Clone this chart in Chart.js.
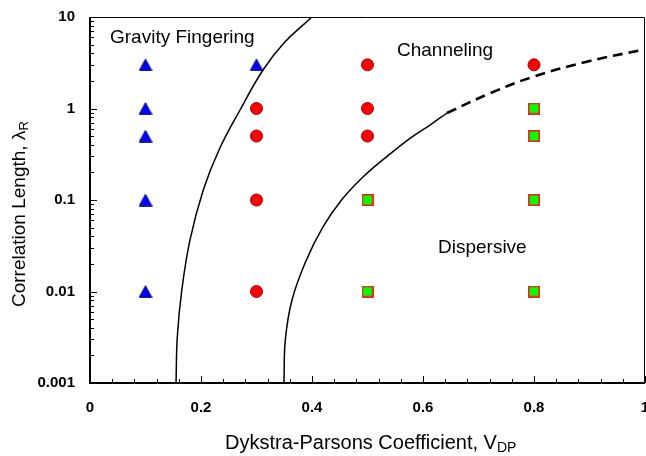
<!DOCTYPE html>
<html>
<head>
<meta charset="utf-8">
<script src="https://cdn.jsdelivr.net/npm/chart.js@4.4.1/dist/chart.umd.min.js"></script>
<style>
  html, body { margin: 0; padding: 0; background: #fff; }
  #wrap { width: 646px; height: 456px; }
</style>
</head>
<body>
<div id="wrap"><canvas id="chart"></canvas></div>
<script>
// measured points (V_DP, lambda_R)
const triangleX = [0.1, 0.1, 0.1, 0.1, 0.1, 0.3];
const triangleY = [3, 1, 0.5, 0.1, 0.01, 3];
const circleX = [0.3, 0.3, 0.3, 0.3, 0.5, 0.5, 0.5, 0.8];
const circleY = [1, 0.5, 0.1, 0.01, 3, 1, 0.5, 3];
const squareX = [0.5, 0.5, 0.8, 0.8, 0.8, 0.8];
const squareY = [0.1, 0.01, 1, 0.5, 0.1, 0.01];

// boundary curves
const gravityX = [0.155, 0.1573, 0.1654, 0.1802, 0.2041, 0.2324, 0.2703, 0.3117, 0.3495, 0.400];
const gravityY = [0.001, 0.00318, 0.01038, 0.0366, 0.1285, 0.352, 0.963, 2.635, 5.20, 10];
const channelX = [0.3495, 0.3519, 0.364, 0.3883, 0.4198, 0.4532, 0.4919, 0.5346, 0.5766, 0.6126, 0.6432];
const channelY = [0.001, 0.00295, 0.00807, 0.021, 0.0507, 0.1, 0.1784, 0.2973, 0.4723, 0.66, 0.893];
const channelDashX = [0.6432, 0.7207, 0.7987, 0.895, 1.0];
const channelDashY = [0.893, 1.466, 2.226, 3.248, 4.436];

const xTicks = [0, 0.2, 0.4, 0.6, 0.8, 1];
const xTickLabels = ['0', '0.2', '0.4', '0.6', '0.8', '1'];
const yTicks = [0.001, 0.01, 0.1, 1, 10];
const yTickLabels = ['0.001', '0.01', '0.1', '1', '10'];

const FONT = "'Liberation Sans', Arial, sans-serif";

const pts = (xs, ys) => xs.map((x, i) => ({ x: x, y: ys[i] }));

function makeTriangle() {
  const c = document.createElement('canvas');
  c.width = 14; c.height = 13;
  const g = c.getContext('2d');
  g.beginPath();
  g.moveTo(7, 0.8);
  g.lineTo(13.3, 12.3);
  g.lineTo(0.7, 12.3);
  g.closePath();
  g.fillStyle = '#0000ff';
  g.fill();
  g.strokeStyle = '#000060';
  g.lineWidth = 1;
  g.stroke();
  return c;
}

function makeSquare() {
  const c = document.createElement('canvas');
  c.width = 12; c.height = 12;
  const g = c.getContext('2d');
  g.fillStyle = '#00ff00';
  g.fillRect(0, 0, 12, 12);
  g.strokeStyle = '#ee2222';
  g.lineWidth = 1.6;
  g.strokeRect(0.8, 0.8, 10.4, 10.4);
  return c;
}

// scales should not grow the layout for overhanging edge labels
function fixBox(s, key, size) {
  s[key] = size;
  s.paddingLeft = 0; s.paddingRight = 0; s.paddingTop = 0; s.paddingBottom = 0;
}

// inward ticks, box and text that Chart.js cannot do out of the box
const decorations = {
  id: 'decorations',
  afterDraw(chart) {
    const { ctx, chartArea: a, scales: { x, y } } = chart;
    ctx.save();
    ctx.strokeStyle = '#000';
    ctx.lineWidth = 1;
    ctx.beginPath();
    for (let i = 0; i <= 25; i++) {
      const px = Math.round(x.getPixelForValue(i * 0.04)) + 0.5;
      const len = i % 5 === 0 ? 7 : 4;
      ctx.moveTo(px, a.bottom);
      ctx.lineTo(px, a.bottom - len);
    }
    for (let d = -3; d <= 0; d++) {
      for (let m = 1; m <= 10; m++) {
        const py = Math.round(y.getPixelForValue(m * Math.pow(10, d))) + 0.5;
        const len = (m === 1 || m === 10) ? 7 : 4;
        ctx.moveTo(a.left, py);
        ctx.lineTo(a.left + len, py);
      }
    }
    ctx.stroke();

    ctx.lineWidth = 1;
    ctx.beginPath();
    ctx.moveTo(a.left, a.top + 0.5);
    ctx.lineTo(a.right - 0.5, a.top + 0.5);
    ctx.lineTo(a.right - 0.5, a.bottom);
    ctx.stroke();
    ctx.lineWidth = 2;
    ctx.beginPath();
    ctx.moveTo(a.left, a.top);
    ctx.lineTo(a.left, a.bottom);
    ctx.lineTo(a.right, a.bottom);
    ctx.stroke();

    // region labels
    ctx.fillStyle = '#000';
    ctx.textBaseline = 'alphabetic';
    ctx.textAlign = 'left';
    ctx.font = '19px ' + FONT;
    ctx.fillText('Gravity Fingering', 110, 43);
    ctx.fillText('Channeling', 397, 56);
    ctx.fillText('Dispersive', 438, 253);

    // x title with subscript
    const xMain = 'Dykstra-Parsons Coefficient, V';
    ctx.font = '20px ' + FONT;
    const wMain = ctx.measureText(xMain).width;
    ctx.fillText(xMain, 225, 449);
    ctx.font = '14px ' + FONT;
    ctx.fillText('DP', 225 + wMain, 452);

    // y title with subscript
    ctx.translate(25, 307);
    ctx.rotate(-Math.PI / 2);
    const yMain = 'Correlation Length, \u03bb';
    ctx.font = '19px ' + FONT;
    ctx.fillText(yMain, 0, 0);
    const wy = ctx.measureText(yMain).width;
    ctx.font = '13px ' + FONT;
    ctx.fillText('R', wy, 3);
    ctx.restore();
  }
};

const curveStyle = {
  type: 'line', borderColor: '#000', borderWidth: 1.5, pointRadius: 0,
  tension: 0.4, fill: false
};

new Chart(document.getElementById('chart'), {
  type: 'scatter',
  data: {
    datasets: [
      Object.assign({ data: pts(gravityX, gravityY) }, curveStyle),
      Object.assign({ data: pts(channelX, channelY) }, curveStyle),
      Object.assign({ data: pts(channelDashX, channelDashY) }, curveStyle,
        { borderWidth: 2.6, borderDash: [10, 6] }),
      {
        data: pts(triangleX, triangleY), pointStyle: makeTriangle(), pointRadius: 7
      },
      {
        data: pts(circleX, circleY), pointStyle: 'circle', pointRadius: 6,
        backgroundColor: '#ff0000', borderColor: '#a00000', borderWidth: 1
      },
      {
        data: pts(squareX, squareY), pointStyle: makeSquare(), pointRadius: 6
      }
    ]
  },
  options: {
    responsive: true,
    maintainAspectRatio: false,
    animation: false,
    events: [],
    layout: { autoPadding: false, padding: { top: 17, right: 1, left: 0, bottom: 0 } },
    plugins: { legend: { display: false }, tooltip: { enabled: false } },
    scales: {
      x: {
        type: 'linear', min: 0, max: 1,
        afterFit: (s) => fixBox(s, 'height', 73),
        afterBuildTicks: (s) => { s.ticks = xTicks.map(v => ({ value: v })); },
        ticks: {
          padding: 16, color: '#000', maxRotation: 0, autoSkip: false,
          font: { family: FONT, size: 15, weight: 'bold' },
          callback: (v) => xTickLabels[xTicks.indexOf(v)]
        },
        grid: { display: false, drawTicks: false },
        border: { display: false }
      },
      y: {
        type: 'logarithmic', min: 0.001, max: 10,
        afterFit: (s) => fixBox(s, 'width', 90),
        afterBuildTicks: (s) => { s.ticks = yTicks.map(v => ({ value: v })); },
        ticks: {
          padding: 15, color: '#000', autoSkip: false,
          font: { family: FONT, size: 15, weight: 'bold' },
          callback: (v) => yTickLabels[yTicks.indexOf(v)]
        },
        grid: { display: false, drawTicks: false },
        border: { display: false }
      }
    }
  },
  plugins: [decorations]
});
</script>
</body>
</html>
